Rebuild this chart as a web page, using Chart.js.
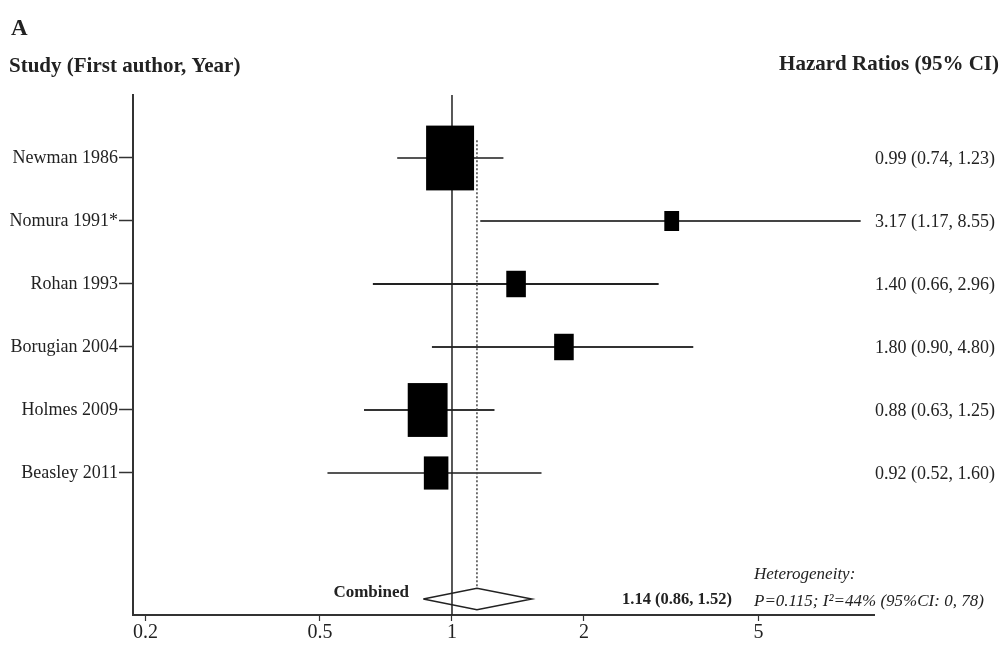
<!DOCTYPE html>
<html>
<head>
<meta charset="utf-8">
<script src="https://cdn.jsdelivr.net/npm/chart.js@4.4.1/dist/chart.umd.min.js"></script>
<style>
  html, body { margin: 0; padding: 0; background: #fff; }
  #wrap { width: 1005px; height: 645px; position: relative; }
</style>
</head>
<body>
<div id="wrap"><canvas id="forest" width="1005" height="645"></canvas></div>
<script>
// study data
const studies = ['Newman 1986', 'Nomura 1991*', 'Rohan 1993', 'Borugian 2004', 'Holmes 2009', 'Beasley 2011'];
const hazardRatios = [0.99, 3.17, 1.40, 1.80, 0.88, 0.92];
// whisker ends as they are drawn in the figure
const lowerCI = [0.75, 1.16, 0.66, 0.90, 0.63, 0.52];
const upperCI = [1.31, 8.55, 2.96, 3.55, 1.25, 1.60];
// estimates as printed in the right column
const ciLabels = [
    '0.99 (0.74, 1.23)',
    '3.17 (1.17, 8.55)',
    '1.40 (0.66, 2.96)',
    '1.80 (0.90, 4.80)',
    '0.88 (0.63, 1.25)',
    '0.92 (0.52, 1.60)'
];
const weights = [42, 4, 7, 7, 29, 11];
const rows = [1, 2, 3, 4, 5, 6];

const pooledHR = 1.14;
const pooledLower = 0.86;
const pooledUpper = 1.52;
const pooledRow = 8;
const pooledLabel = '1.14 (0.86, 1.52)';
const heteroLabel = 'P=0.115; I\u00B2=44% (95%CI: 0, 78)';

const xTicks = [0.2, 0.5, 1, 2, 5];

const serif = "'Liberation Serif', 'Times New Roman', serif";
const ink = '#222';

const datasets = [];

// null line (HR = 1)
datasets.push({
    data: [{ x: 1, y: 0 }, { x: 1, y: 8.254 }],
    borderColor: '#222', borderWidth: 1.5, pointRadius: 0, showLine: true
});

// pooled estimate, dashed
datasets.push({
    data: [{ x: pooledHR, y: 0.72 }, { x: pooledHR, y: pooledRow - 0.17 }],
    borderColor: '#444', borderWidth: 1.5, borderDash: [2, 2], pointRadius: 0, showLine: true
});

// confidence interval whiskers
const whiskerColors = ['#555', '#444', '#222', '#333', '#333', '#555'];
rows.forEach((r, i) => {
    datasets.push({
        data: [{ x: lowerCI[i], y: r }, { x: upperCI[i], y: r }],
        borderColor: whiskerColors[i], borderWidth: 2, pointRadius: 0, showLine: true
    });
});

// combined diamond
datasets.push({
    data: [
        { x: pooledLower, y: pooledRow },
        { x: pooledHR, y: pooledRow - 0.17 },
        { x: pooledUpper, y: pooledRow },
        { x: pooledHR, y: pooledRow + 0.17 },
        { x: pooledLower, y: pooledRow }
    ],
    borderColor: '#222', borderWidth: 1.5, pointRadius: 0, showLine: true, tension: 0
});

// boxes sized by weight + all the text around the plot
const forestExtras = {
    id: 'forestExtras',
    afterDatasetsDraw(chart) {
        const { ctx, scales } = chart;
        const xs = scales.x, ys = scales.y;
        ctx.save();
        ctx.fillStyle = '#000';
        rows.forEach((r, i) => {
            const cx = xs.getPixelForValue(hazardRatios[i]);
            const cy = ys.getPixelForValue(r);
            const h = 10 * Math.sqrt(weights[i]);
            const w = h * 0.74;
            ctx.fillRect(cx - w / 2, cy - h / 2, w, h);
        });

        ctx.fillStyle = ink;
        ctx.textBaseline = 'middle';

        // header
        ctx.font = 'bold 23px ' + serif;
        ctx.textAlign = 'left';
        ctx.fillText('A', 11, 29);
        ctx.font = 'bold 21px ' + serif;
        ctx.fillText('Study (First author, Year)', 9, 67);
        ctx.textAlign = 'right';
        ctx.fillText('Hazard Ratios (95% CI)', 999, 65);

        // per-study estimates
        ctx.font = '18px ' + serif;
        ctx.textAlign = 'left';
        rows.forEach((r, i) => {
            ctx.fillText(ciLabels[i], 875, ys.getPixelForValue(r) + 1);
        });

        // combined row
        const py = ys.getPixelForValue(pooledRow);
        ctx.font = 'bold 17px ' + serif;
        ctx.textAlign = 'right';
        ctx.fillText('Combined', 409, py - 6);
        ctx.font = 'bold 16.5px ' + serif;
        ctx.textAlign = 'left';
        ctx.fillText(pooledLabel, 622, py + 1);
        ctx.font = 'italic 17px ' + serif;
        ctx.fillText('Heterogeneity:', 754, py - 24);
        ctx.fillText(heteroLabel, 754, py + 3);
        ctx.restore();
    }
};

new Chart(document.getElementById('forest'), {
    type: 'scatter',
    data: { datasets },
    options: {
        responsive: false,
        animation: false,
        layout: { padding: { top: 95, right: 131, left: 0, bottom: 0 } },
        plugins: { legend: { display: false }, tooltip: { enabled: false } },
        scales: {
            x: {
                type: 'logarithmic',
                min: 0.1873,
                max: 9.17,
                afterBuildTicks: ax => { ax.ticks = xTicks.map(v => ({ value: v })); },
                afterFit: ax => { ax.height = 30; },
                grid: { drawOnChartArea: false, tickLength: 6, color: '#333', tickWidth: 1.2 },
                border: { display: true, color: '#333', width: 2 },
                ticks: {
                    autoSkip: false, maxRotation: 0, padding: 0, color: ink,
                    font: { family: serif, size: 20 },
                    callback: v => String(v)
                }
            },
            y: {
                type: 'linear',
                reverse: true,
                min: 0,
                max: 8.254,
                afterBuildTicks: ax => { ax.ticks = rows.map(v => ({ value: v })); },
                afterFit: ax => { ax.width = 133; },
                grid: { drawOnChartArea: false, tickLength: 14, color: '#333', tickWidth: 1.5 },
                border: { display: true, color: '#333', width: 2 },
                ticks: {
                    padding: 1, color: ink,
                    font: { family: serif, size: 18 },
                    callback: v => studies[rows.indexOf(v)] || ''
                }
            }
        }
    },
    plugins: [forestExtras]
});
</script>
</body>
</html>
